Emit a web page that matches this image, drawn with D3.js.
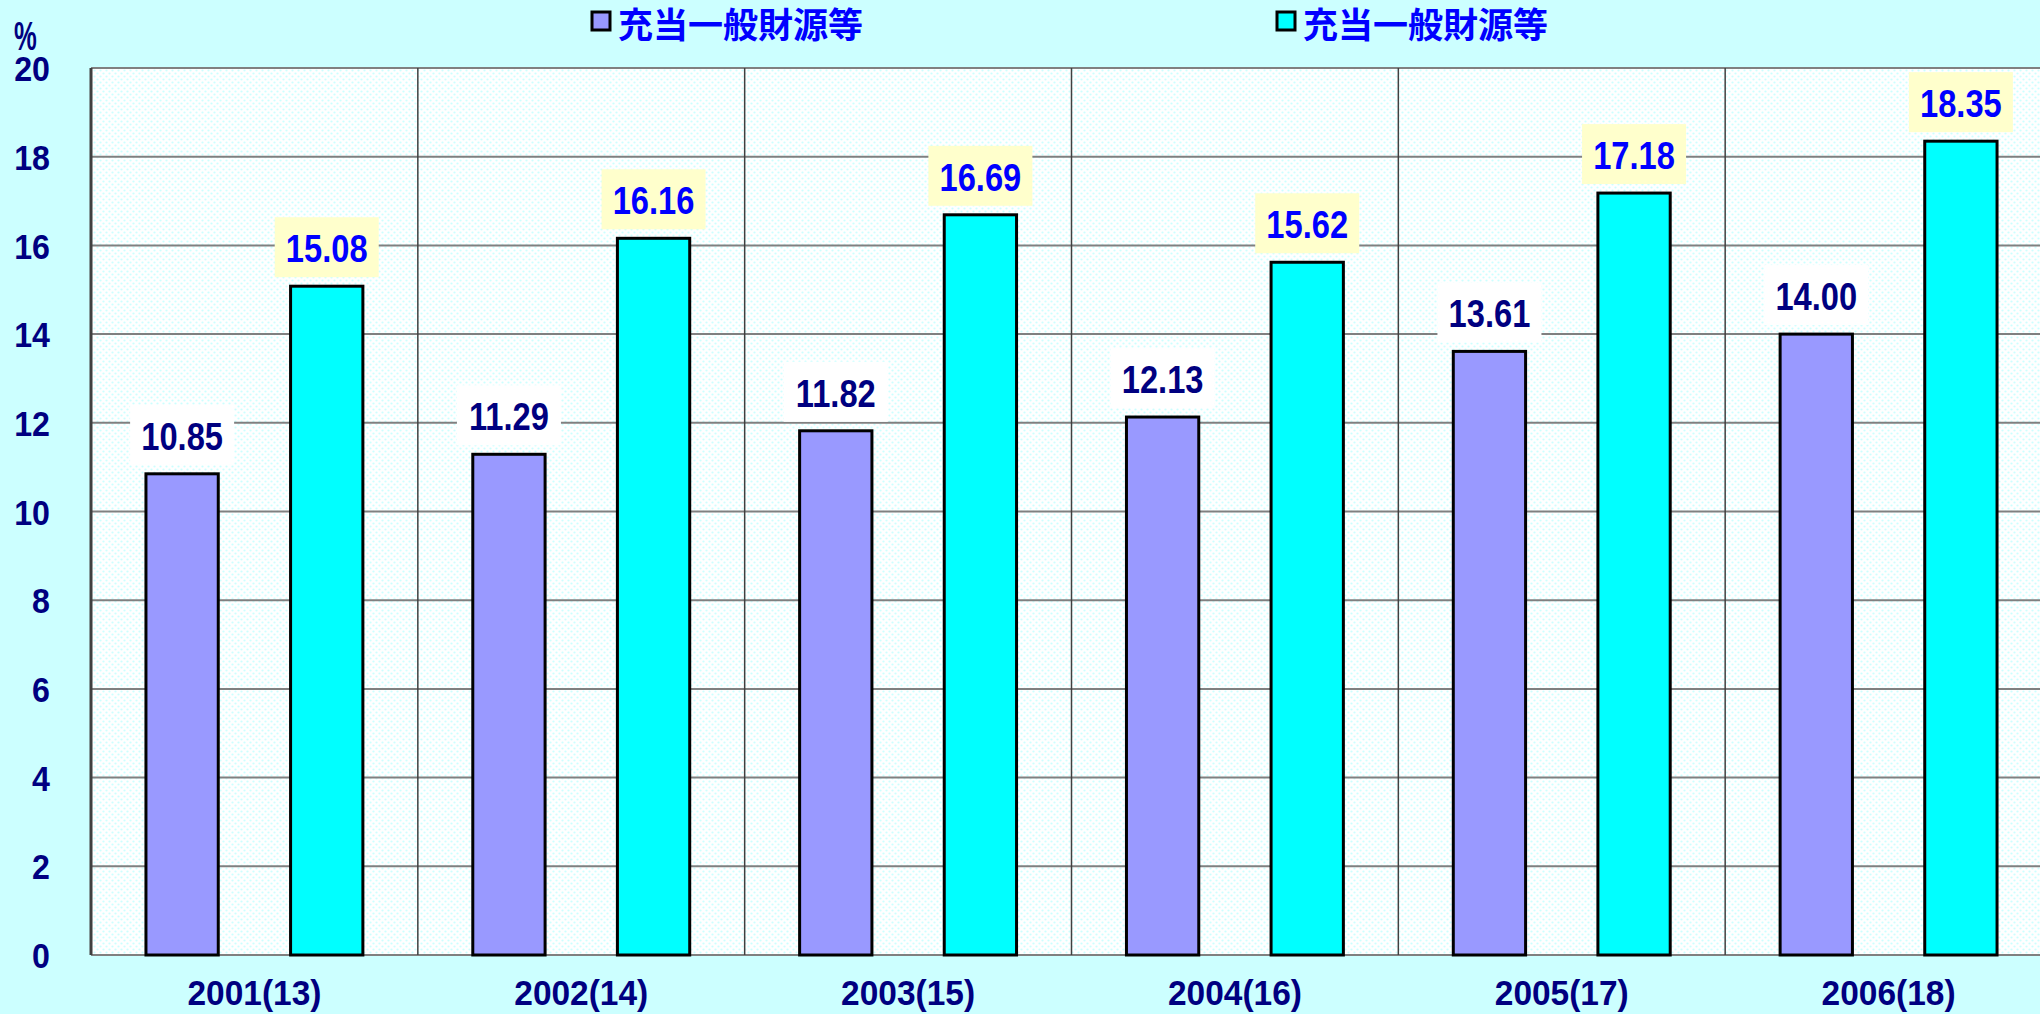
<!DOCTYPE html>
<html>
<head>
<meta charset="utf-8">
<script src="https://cdn.jsdelivr.net/npm/d3@7"></script>
<style>
  body { margin: 0; background: #ccffff; }
  svg { display: block; }
  text { font-family: "Liberation Sans", Arial, "Noto Sans CJK JP", sans-serif; font-weight: bold; }
</style>
</head>
<body>
<svg class="chart-svg" width="2040" height="1014"></svg>
<script>
const years = ['2001(13)', '2002(14)', '2003(15)', '2004(16)', '2005(17)', '2006(18)']
const seriesNames = ['充当一般財源等', '充当一般財源等']
const seriesA = [10.85, 11.29, 11.82, 12.13, 13.61, 14.00]
const seriesB = [15.08, 16.16, 16.69, 15.62, 17.18, 18.35]
const yTicks = [0, 2, 4, 6, 8, 10, 12, 14, 16, 18, 20]

const colors = ['#9999ff', '#00ffff']
const labelFill = ['#ffffff', '#ffffcc']
const labelColor = ['#000080', '#0000ff']

const margin = { left: 91, top: 68, right: 2052, bottom: 955 }
const svg = d3.select('.chart-svg')

// dotted background for the plot area
const defs = svg.append('defs')
const pat = defs.append('pattern')
  .attr('id', 'dots')
  .attr('width', 6).attr('height', 6)
  .attr('patternUnits', 'userSpaceOnUse')
pat.append('rect').attr('width', 6).attr('height', 6).attr('fill', '#ffffff')
pat.append('circle').attr('cx', 1.5).attr('cy', 1.5).attr('r', 1.1).attr('fill', '#ccffff')
pat.append('circle').attr('cx', 4.5).attr('cy', 4.5).attr('r', 1.1).attr('fill', '#ccffff')

const xScale = d3.scaleBand().domain(years).range([margin.left, margin.right]).padding(0)
const xInner = d3.scaleBand().domain([0, 1]).range([0, xScale.bandwidth()])
  .paddingInner(0.5).paddingOuter(0.38)
const yScale = d3.scaleLinear().domain([0, 20]).range([margin.bottom, margin.top])

svg.append('rect')
  .attr('x', margin.left).attr('y', margin.top)
  .attr('width', margin.right - margin.left).attr('height', margin.bottom - margin.top)
  .attr('fill', 'url(#dots)')

// horizontal grid
svg.append('g').selectAll('line')
  .data(yTicks)
  .enter().append('line')
  .attr('x1', margin.left).attr('x2', margin.right)
  .attr('y1', d => yScale(d)).attr('y2', d => yScale(d))
  .attr('stroke', '#808080').attr('stroke-width', 2)

// vertical category dividers
svg.append('g').selectAll('line')
  .data(years.slice(1))
  .enter().append('line')
  .attr('x1', d => xScale(d)).attr('x2', d => xScale(d))
  .attr('y1', margin.top).attr('y2', margin.bottom)
  .attr('stroke', '#404040').attr('stroke-width', 1.5)

svg.append('line')
  .attr('x1', margin.left).attr('x2', margin.left)
  .attr('y1', margin.top).attr('y2', margin.bottom)
  .attr('stroke', '#404040').attr('stroke-width', 3)

// y axis labels
const yAxis = svg.append('g')
  .attr('transform', `translate(50,0)`)
  .call(d3.axisLeft(yScale).tickValues(yTicks).tickSize(0).tickPadding(0))
yAxis.select('.domain').remove()
yAxis.selectAll('text')
  .attr('fill', '#000080')
  .attr('font-size', 35)
  .attr('dy', '0.36em')
  .attr('transform', 'scale(0.92,1)')

svg.append('text')
  .attr('x', 14).attr('y', 50)
  .attr('fill', '#000080').attr('font-size', 32)
  .attr('transform', 'translate(14,50) scale(0.8,1.25) translate(-14,-50)')
  .text('%')

// x axis labels
const xAxis = svg.append('g')
  .attr('transform', `translate(0,${margin.bottom})`)
  .call(d3.axisBottom(xScale).tickSize(0).tickPadding(28))
xAxis.select('.domain').remove()
xAxis.selectAll('text')
  .attr('fill', '#000080')
  .attr('font-size', 36)
  .attr('y', 50)
  .attr('dy', 0)
  .attr('transform', 'scale(0.93,1)')

// bars
const rows = years.map((y, i) => ({ year: y, values: [seriesA[i], seriesB[i]] }))
const groups = svg.append('g').selectAll('g')
  .data(rows)
  .enter().append('g')
  .attr('transform', d => `translate(${xScale(d.year)},0)`)

groups.selectAll('rect')
  .data(d => d.values.map((v, k) => ({ v, k })))
  .enter().append('rect')
  .attr('x', d => xInner(d.k))
  .attr('y', d => yScale(d.v))
  .attr('width', xInner.bandwidth())
  .attr('height', d => yScale(0) - yScale(d.v))
  .attr('fill', d => colors[d.k])
  .attr('stroke', '#000').attr('stroke-width', 3)

// value labels
const labels = groups.selectAll('.lbl')
  .data(d => d.values.map((v, k) => ({ v, k })))
  .enter().append('g')
  .attr('class', 'lbl')
  .attr('transform', d => `translate(${xInner(d.k) + xInner.bandwidth() / 2},${yScale(d.v) - 9})`)
labels.append('rect')
  .attr('x', -52).attr('y', -60)
  .attr('width', 104).attr('height', 60)
  .attr('fill', d => labelFill[d.k])
labels.append('text')
  .attr('text-anchor', 'middle')
  .attr('y', -15)
  .attr('font-size', 38)
  .attr('transform', 'scale(0.86,1)')
  .attr('fill', d => labelColor[d.k])
  .text(d => d.v.toFixed(2))

// legend
const legendX = [592, 1277]
const legend = svg.append('g').selectAll('g')
  .data(seriesNames)
  .enter().append('g')
  .attr('transform', (d, i) => `translate(${legendX[i]},12)`)
legend.append('rect')
  .attr('width', 18).attr('height', 18)
  .attr('fill', (d, i) => colors[i])
  .attr('stroke', '#000').attr('stroke-width', 3)
legend.append('text')
  .attr('x', 26).attr('y', 26)
  .attr('font-family', '"Noto Sans CJK JP", sans-serif')
  .attr('font-size', 35)
  .attr('fill', '#0000ff')
  .text(d => d)
</script>
</body>
</html>
